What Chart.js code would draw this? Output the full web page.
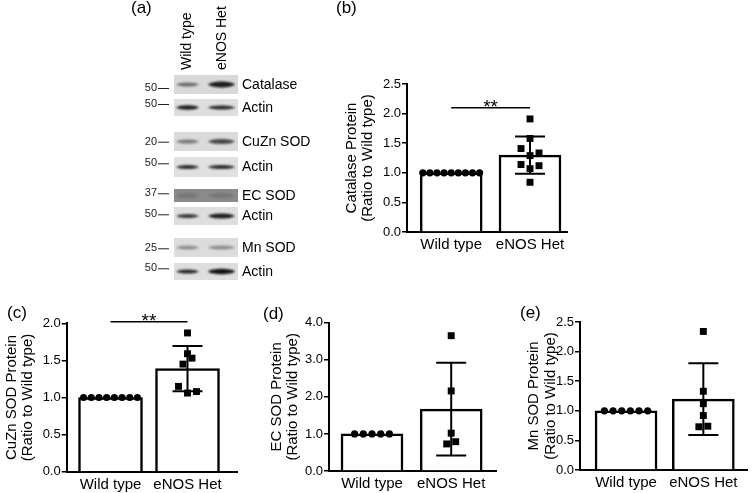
<!DOCTYPE html>
<html>
<head>
<meta charset="utf-8">
<script src="https://cdn.jsdelivr.net/npm/chart.js@4.4.0/dist/chart.umd.min.js"></script>
<style>
  body { margin: 0; background: #fff; }
  #wrap { position: relative; width: 752px; height: 493px; overflow: hidden; }
  canvas { position: absolute; }
</style>
</head>
<body>
<div id="wrap">
  <canvas id="blot" width="752" height="493" style="left:0;top:0"></canvas>
  <canvas id="chartB"></canvas>
  <canvas id="chartC"></canvas>
  <canvas id="chartD"></canvas>
  <canvas id="chartE"></canvas>
</div>
<script>
// ---------------- data ----------------
var groups = ["Wild type", "eNOS Het"];
var yTitle2 = "(Ratio to Wild type)";

var catalaseWT = [1, 1, 1, 1, 1, 1, 1, 1, 1];
var catalaseHet = [1.91, 1.58, 1.41, 1.335, 1.29, 1.14, 1.12, 1.07, 0.84];
var catalaseTicks = [0, 0.5, 1.0, 1.5, 2.0, 2.5];

var cuznWT = [1, 1, 1, 1, 1, 1, 1, 1];
var cuznHet = [1.87, 1.59, 1.53, 1.45, 1.15, 1.08, 1.06];
var cuznTicks = [0, 0.5, 1.0, 1.5, 2.0];

var ecWT = [1, 1, 1, 1, 1];
var ecHet = [3.65, 2.16, 1.02, 0.79, 0.73];
var ecTicks = [0, 1.0, 2.0, 3.0, 4.0];

var mnWT = [1, 1, 1, 1, 1, 1];
var mnHet = [2.34, 1.33, 1.12, 0.92, 0.74, 0.73];
var mnTicks = [0, 0.5, 1.0, 1.5, 2.0, 2.5];

// western blot panel (a)
var laneLabels = ["Wild type", "eNOS Het"];
var blotLabels = ["Catalase", "Actin", "CuZn SOD", "Actin", "EC SOD", "Actin", "Mn SOD", "Actin"];
var blotKda = ["50", "50", "20", "50", "37", "50", "25", "50"];

Chart.defaults.font.family = '"Liberation Sans", Arial, sans-serif';
Chart.defaults.color = '#000';

// ---------------- helpers ----------------
function mean(a) { return a.reduce((s, v) => s + v, 0) / a.length; }
function sd(a) {
  if (a.length < 2) return 0;
  var m = mean(a);
  return Math.sqrt(a.reduce((s, v) => s + (v - m) * (v - m), 0) / (a.length - 1));
}

// points that sit at (nearly) the same height go side by side, centred on the group
function swarm(vals, unitPx, sizePx, stepPx) {
  var idx = vals.map((v, i) => i).sort((a, b) => vals[a] - vals[b]);
  var off = vals.map(() => 0);
  var row = [];
  function flush() {
    var n = row.length;
    row.forEach((i, k) => {
      var slot;
      if (n % 2) slot = k === 0 ? 0 : (k % 2 ? 1 : -1) * Math.ceil(k / 2);
      else slot = (k % 2 ? 1 : -1) * (Math.floor(k / 2) + 0.5);
      if (n > 3) slot = k - (n - 1) / 2;
      off[i] = slot * stepPx;
    });
    row = [];
  }
  idx.forEach(i => {
    if (row.length && (vals[i] - vals[row[0]]) * unitPx > sizePx) flush();
    row.push(i);
  });
  flush();
  return off;
}

var errPlugin = {
  id: 'errbars',
  afterDatasetDraw(chart, args) {
    if (args.index !== 0) return;
    var gv = chart.data.datasets[0].groupVals;
    if (!gv) return;
    var ctx = chart.ctx, xs = chart.scales.x, ys = chart.scales.y;
    gv.forEach((vals, g) => {
      var m = mean(vals), s = sd(vals);
      if (s === 0) return;
      var x = xs.getPixelForValue(g);
      var y1 = ys.getPixelForValue(m + s), y0 = ys.getPixelForValue(m - s);
      ctx.save();
      ctx.strokeStyle = '#000';
      ctx.lineWidth = 2;
      ctx.beginPath();
      ctx.moveTo(x, y0); ctx.lineTo(x, y1);
      ctx.moveTo(x - 15, y1); ctx.lineTo(x + 15, y1);
      ctx.moveTo(x - 15, y0); ctx.lineTo(x + 15, y0);
      ctx.stroke();
      ctx.restore();
    });
  }
};

var sigPlugin = {
  id: 'sig',
  afterDraw(chart) {
    var o = chart.options.plugins.sig;
    if (!o || !o.text) return;
    var ctx = chart.ctx, xs = chart.scales.x, ys = chart.scales.y;
    var xa = xs.getPixelForValue(0), xb = xs.getPixelForValue(1), y = ys.getPixelForValue(o.y);
    ctx.save();
    ctx.strokeStyle = '#000';
    ctx.lineWidth = 1.5;
    ctx.beginPath(); ctx.moveTo(xa, y); ctx.lineTo(xb, y); ctx.stroke();
    ctx.fillStyle = '#000';
    ctx.font = '19px "Liberation Sans", Arial, sans-serif';
    ctx.textAlign = 'center';
    ctx.textBaseline = 'alphabetic';
    ctx.fillText(o.text, (xa + xb) / 2, y + 5);
    ctx.restore();
  }
};

function makePanel(id, p) {
  var cv = document.getElementById(id);
  cv.width = p.box.w; cv.height = p.box.h;
  cv.style.left = p.box.x + 'px'; cv.style.top = p.box.y + 'px';
  var a = p.area;
  var spacing = p.centers[1] - p.centers[0];
  var xmin = -(p.centers[0] - a.l) / spacing;
  var xmax = xmin + (a.r - a.l) / spacing;
  var yUnitPx = (a.b - a.t) / p.ticks[p.ticks.length - 1];

  var offWT = swarm(p.wt, yUnitPx, 8, p.circleStep);
  var offHet = swarm(p.het, yUnitPx, 8, 9);
  var wtPts = p.wt.map((v, i) => ({ x: 0 + offWT[i] / spacing, y: v }));
  var hetPts = p.het.map((v, i) => ({ x: 1 + offHet[i] / spacing, y: v }));

  return new Chart(cv, {
    type: 'bar',
    data: {
      datasets: [{
        type: 'bar',
        data: [{ x: 0, y: mean(p.wt) }, { x: 1, y: mean(p.het) }],
        groupVals: [p.wt, p.het],
        backgroundColor: '#fff',
        borderColor: '#000',
        borderWidth: 2.5,
        barThickness: p.barW,
        order: 2
      }, {
        type: 'scatter',
        data: wtPts,
        pointStyle: 'circle',
        radius: 3.6,
        backgroundColor: '#000',
        borderWidth: 0,
        clip: false,
        order: 1
      }, {
        type: 'scatter',
        data: hetPts,
        pointStyle: 'rect',
        radius: 4.9,
        backgroundColor: '#000',
        borderWidth: 0,
        clip: false,
        order: 1
      }]
    },
    options: {
      responsive: false,
      animation: false,
      devicePixelRatio: 1,
      layout: { padding: { left: 0, top: a.t - p.box.y, right: p.box.x + p.box.w - a.r, bottom: 0 } },
      plugins: {
        legend: { display: false },
        tooltip: { enabled: false },
        sig: p.sig || {}
      },
      scales: {
        x: {
          type: 'linear', min: xmin, max: xmax, offset: false,
          grid: { display: false, drawTicks: false },
          border: { display: true, color: '#000', width: 2 },
          afterBuildTicks: s => { s.ticks = groups.map((g, i) => ({ value: i })); },
          ticks: { callback: v => groups[v], font: { size: 15 }, padding: 4, autoSkip: false, maxRotation: 0 },
          afterFit: s => { s.height = p.box.y + p.box.h - a.b; }
        },
        y: {
          min: 0, max: p.ticks[p.ticks.length - 1],
          afterBuildTicks: s => { s.ticks = p.ticks.map(v => ({ value: v })); },
          grid: { drawOnChartArea: false, drawTicks: true, tickLength: 5, color: '#000', lineWidth: 1.5 },
          border: { color: '#000', width: 2 },
          ticks: { callback: v => v.toFixed(1), font: { size: 13 }, padding: 1 },
          title: {
            display: true, text: [p.title, yTitle2],
            font: { size: 15, lineHeight: 1.1 },
            padding: { top: p.titlePad, bottom: 0 }
          },
          afterFit: s => { s.width = a.l - p.box.x; }
        }
      }
    },
    plugins: [errPlugin, sigPlugin]
  });
}

makePanel('chartB', {
  box: { x: 330, y: 60, w: 250, h: 200 }, area: { l: 407, t: 84, r: 567, b: 232 },
  centers: [451.2, 530], barW: 62, circleStep: 7.1,
  wt: catalaseWT, het: catalaseHet, ticks: catalaseTicks,
  title: 'Catalase Protein', titlePad: 13.2, sig: { y: 2.1, text: '**' }
});
makePanel('chartC', {
  box: { x: 0, y: 300, w: 252, h: 193 }, area: { l: 66.7, t: 323.3, r: 237, b: 471.7 },
  centers: [110.5, 187.5], barW: 64, circleStep: 7.7,
  wt: cuznWT, het: cuznHet, ticks: cuznTicks,
  title: 'CuZn SOD Protein', titlePad: 3.2, sig: { y: 2.02, text: '**' }
});
makePanel('chartD', {
  box: { x: 250, y: 300, w: 252, h: 193 }, area: { l: 329, t: 322.7, r: 496.7, b: 471 },
  centers: [372, 451.2], barW: 62, circleStep: 8.7,
  wt: ecWT, het: ecHet, ticks: ecTicks,
  title: 'EC SOD Protein', titlePad: 18.2
});
makePanel('chartE', {
  box: { x: 500, y: 300, w: 252, h: 193 }, area: { l: 580, t: 322, r: 748, b: 470 },
  centers: [626.3, 704], barW: 62, circleStep: 8.7,
  wt: mnWT, het: mnHet, ticks: mnTicks,
  title: 'Mn SOD Protein', titlePad: 25.8
});

// ---------------- panel (a): blot + panel letters ----------------
(function () {
  var ctx = document.getElementById('blot').getContext('2d');
  var font = '"Liberation Sans", Arial, sans-serif';
  ctx.fillStyle = '#000';
  ctx.font = '17px ' + font;
  ctx.textBaseline = 'middle';
  ctx.textAlign = 'left';
  [['(a)', 131, 8.5], ['(b)', 336, 8.5], ['(c)', 7, 313], ['(d)', 263, 314], ['(e)', 520, 313.5]]
    .forEach(t => ctx.fillText(t[0], t[1], t[2]));

  // lane headers
  ctx.font = '14px ' + font;
  ctx.textBaseline = 'alphabetic';
  [[laneLabels[0], 191], [laneLabels[1], 226]].forEach(t => {
    ctx.save();
    ctx.translate(t[1], 70);
    ctx.rotate(-Math.PI / 2);
    ctx.fillText(t[0], 0, 0);
    ctx.restore();
  });

  var rows = [
    { top: 75, bot: 94, bg: '#d9d9d9', band: [['#6a6a6a', 4], ['#1c1c1c', 6]], mk: 88 },
    { top: 99, bot: 116, bg: '#dedede', band: [['#1e1e1e', 4.5], ['#2a2a2a', 4]], mk: 104 },
    { top: 132, bot: 151, bg: '#dadada', band: [['#787878', 4], ['#484848', 5]], mk: 141.7 },
    { top: 157, bot: 177, bg: '#e0e0e0', band: [['#2c2c2c', 4], ['#2c2c2c', 4]], mk: 163.3 },
    { top: 189, bot: 202, bg: '#8a8a8a', band: [['#777', 5], ['#777', 5]], mk: 193.3 },
    { top: 207, bot: 225, bg: '#dedede', band: [['#383838', 4], ['#1e1e1e', 5]], mk: 214.3 },
    { top: 238, bot: 257, bg: '#dcdcdc', band: [['#8e8e8e', 4], ['#8e8e8e', 4]], mk: 248.3 },
    { top: 263, bot: 280, bg: '#dedede', band: [['#262626', 4], ['#121212', 5.5]], mk: 268.3 }
  ];
  var lanes = [[176, 199], [208, 235]];
  rows.forEach((r, i) => {
    ctx.fillStyle = r.bg;
    ctx.fillRect(174, r.top, 64, r.bot - r.top);
    var yc = (r.top + r.bot) / 2;
    ctx.save();
    ctx.filter = 'blur(0.8px)';
    lanes.forEach((ln, j) => {
      var h = r.band[j][1];
      ctx.fillStyle = r.band[j][0];
      ctx.beginPath();
      ctx.moveTo(ln[0], yc);
      ctx.bezierCurveTo(ln[0] + 4, yc - h * 0.67, ln[1] - 4, yc - h * 0.67, ln[1], yc);
      ctx.bezierCurveTo(ln[1] - 4, yc + h * 0.67, ln[0] + 4, yc + h * 0.67, ln[0], yc);
      ctx.fill();
    });
    ctx.restore();

    // protein name
    ctx.fillStyle = '#000';
    ctx.font = '14px ' + font;
    ctx.textAlign = 'left';
    ctx.textBaseline = 'middle';
    ctx.fillText(blotLabels[i], 242, yc + 0.5);

    // size marker
    ctx.fillStyle = '#222';
    ctx.font = '11px ' + font;
    ctx.textAlign = 'right';
    ctx.fillText(blotKda[i], 157, r.mk);
    ctx.strokeStyle = '#222';
    ctx.lineWidth = 1;
    ctx.beginPath(); ctx.moveTo(158, r.mk + 0.5); ctx.lineTo(169, r.mk + 0.5); ctx.stroke();
  });
})();
</script>
</body>
</html>
